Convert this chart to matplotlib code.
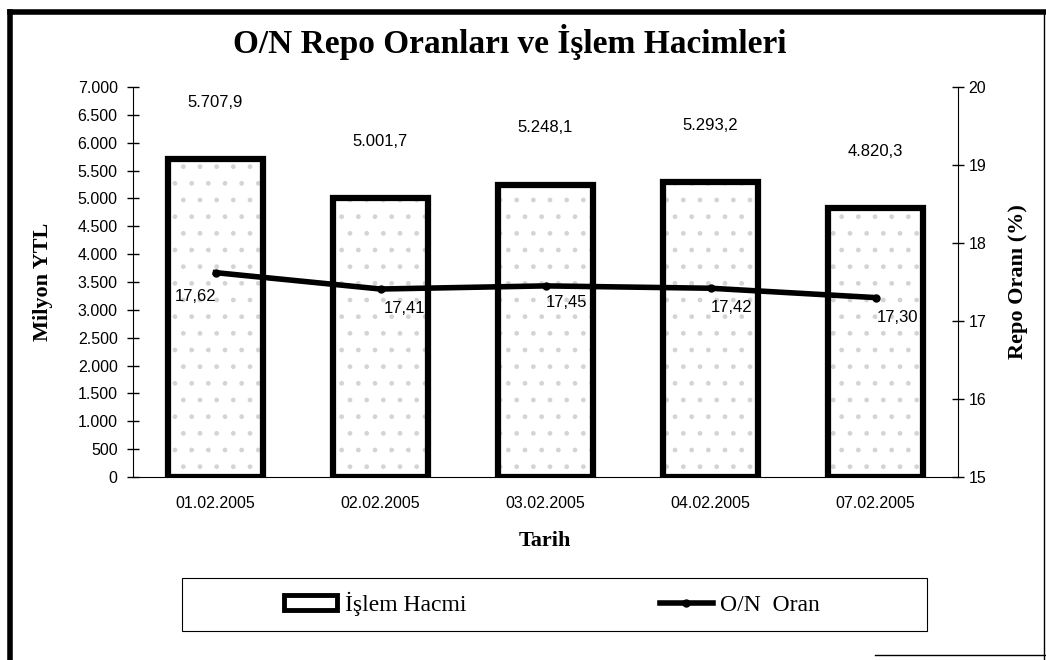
import matplotlib.pyplot as plt
from matplotlib.ticker import FuncFormatter
from matplotlib.patches import Rectangle
from matplotlib.lines import Line2D

dates = ["01.02.2005", "02.02.2005", "03.02.2005", "04.02.2005", "07.02.2005"]
volume = [5707.9, 5001.7, 5248.1, 5293.2, 4820.3]
rate = [17.62, 17.41, 17.45, 17.42, 17.30]

serif = "Liberation Serif"
sans = "Liberation Sans"
W, H = 1046, 660


def tr_num(v, decimals):
    s = f"{v:,.{decimals}f}"
    return s.replace(",", "X").replace(".", ",").replace("X", ".")


fig = plt.figure(figsize=(W / 100, H / 100), dpi=100)
ax = fig.add_axes([133 / W, 1 - 477 / H, 825 / W, 390 / H])
x = range(len(dates))

# light dotted fill, then thick outline
ax.bar(x, volume, width=0.58, color="white", edgecolor="#d4d4d4", hatch=".", linewidth=0, zorder=1)
ax.bar(x, volume, width=0.58, fill=False, edgecolor="black", linewidth=4.5, zorder=2)
ax.set_xlim(-0.5, len(dates) - 0.5)
ax.set_ylim(0, 7000)
ax.set_yticks(range(0, 7001, 500))
ax.yaxis.set_major_formatter(FuncFormatter(lambda v, p: tr_num(v, 0)))
ax.set_xticks(list(x))
ax.set_xticklabels(dates, fontfamily=sans, fontsize=11.5)
for lab in ax.get_yticklabels():
    lab.set_fontfamily(sans)
    lab.set_fontsize(11.5)
ax.tick_params(axis="y", direction="inout", length=8, width=1, pad=7)
ax.tick_params(axis="x", length=0, pad=14)
ax.spines["top"].set_visible(False)
ax.spines["right"].set_visible(False)

for i, v in enumerate(volume):
    ax.annotate(tr_num(v, 1), (i, v), xytext=(0, 41), textcoords="offset points",
                ha="center", va="center", fontfamily=sans, fontsize=12)

ax2 = ax.twinx()
ax2.set_ylim(15, 20)
ax2.set_yticks(range(15, 21))
ax2.plot(list(x), rate, color="black", linewidth=4, marker="o", markersize=5, zorder=3)
for lab in ax2.get_yticklabels():
    lab.set_fontfamily(sans)
    lab.set_fontsize(11.5)
ax2.tick_params(axis="y", direction="inout", length=8, width=1)
ax2.spines["top"].set_visible(False)
ax2.spines["left"].set_visible(False)
ax2.spines["bottom"].set_visible(False)

offsets = [(-14, -17), (17, -14), (15, -12), (15, -14), (16, -14)]
for i, (v, off) in enumerate(zip(rate, offsets)):
    ax2.annotate(tr_num(v, 2), (i, v), xytext=off, textcoords="offset points",
                 ha="center", va="center", fontfamily=sans, fontsize=12)

fig.text(510 / W, 0.937, "O/N Repo Oranları ve İşlem Hacimleri", ha="center", va="center",
         fontfamily=serif, fontweight="bold", fontsize=24)
fig.text(545 / W, 1 - 541 / H, "Tarih", ha="center", va="center",
         fontfamily=serif, fontweight="bold", fontsize=16)
fig.text(43 / W, 1 - 282 / H, "Milyon YTL", ha="center", va="center", rotation=90,
         fontfamily=serif, fontweight="bold", fontsize=16)
fig.text(1018 / W, 1 - 282 / H, "Repo Oranı (%)", ha="center", va="center", rotation=90,
         fontfamily=serif, fontweight="bold", fontsize=16)

# legend: entries centred, frame drawn separately so it can be wider
h1 = Rectangle((0, 0), 1, 1, facecolor="white", edgecolor="black", linewidth=3.5)
h2 = ax2.get_lines()[0]
fig.legend([h1, h2], ["İşlem Hacmi", "O/N  Oran"], loc="center",
           bbox_to_anchor=(552 / W, 1 - 604 / H), ncol=2,
           prop={"family": serif, "size": 17}, frameon=False,
           handlelength=2.25, handleheight=0.6, handletextpad=0.3, columnspacing=8.2)
fig.patches.append(Rectangle((182 / W, 1 - 631 / H), 745 / W, 53 / H,
                             transform=fig.transFigure, fill=False, edgecolor="black",
                             linewidth=0.8))

# page frame: thick left/top, thin right, short bottom-right piece
frame = [((10, 10), (12, 660), 4), ((10, 1045), (12, 12), 4),
         ((1044, 1044), (12, 660), 1), ((875, 1046), (655, 655), 1)]
for xs, ys, lw in frame:
    fig.lines.append(Line2D([v / W for v in xs], [1 - v / H for v in ys],
                            transform=fig.transFigure, color="black", linewidth=lw))

fig.savefig("out.png", dpi=100)
